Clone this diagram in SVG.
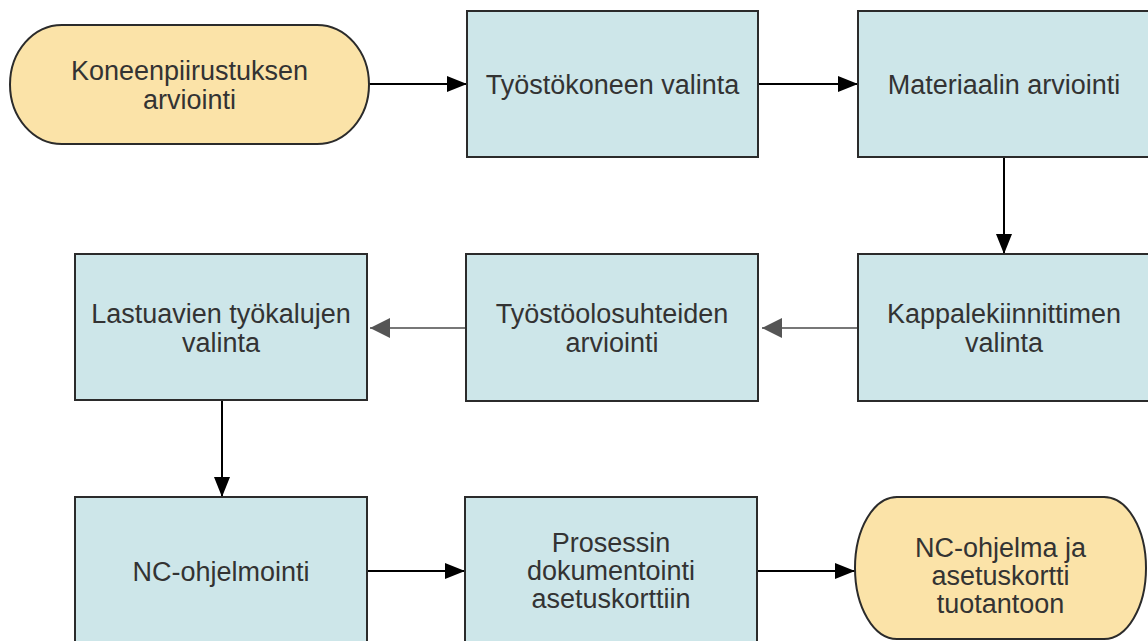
<svg xmlns="http://www.w3.org/2000/svg" width="1148" height="641" viewBox="0 0 1148 641">
<defs>
<style>
.box{fill:#cde6e9;stroke:#2b2b2b;stroke-width:2}
.term{fill:#fbe3a8;stroke:#2b2b2b;stroke-width:2}
.lbl{font-family:"Liberation Sans",Arial,sans-serif;font-size:27px;fill:#333;text-anchor:middle}
.c{fill:none;stroke:#000;stroke-width:2}
.g{fill:none;stroke:#777;stroke-width:2}
</style>
<marker id="ab" viewBox="0 0 20 16" refX="20" refY="8" markerWidth="20" markerHeight="16" markerUnits="userSpaceOnUse" orient="auto">
<path d="M0,0 L20,8 L0,16 Z" fill="#000"/>
</marker>
<marker id="ag" viewBox="0 0 20 20" refX="20" refY="10" markerWidth="20" markerHeight="20" markerUnits="userSpaceOnUse" orient="auto">
<path d="M0,0 L20,10 L0,20 Z" fill="#555"/>
</marker>
</defs>
<rect width="1148" height="641" fill="#fff"/>
<g id="connectors">
<path class="c" d="M369,84 H467" marker-end="url(#ab)"/>
<path class="c" d="M758,84 H858" marker-end="url(#ab)"/>
<path class="c" d="M1004,157 V254" marker-end="url(#ab)"/>
<path class="g" d="M858,328 H762" marker-end="url(#ag)"/>
<path class="g" d="M466,328 H370" marker-end="url(#ag)"/>
<path class="c" d="M222,400 V497" marker-end="url(#ab)"/>
<path class="c" d="M367,571 H465" marker-end="url(#ab)"/>
<path class="c" d="M757,571 H855" marker-end="url(#ab)"/>
</g>
<g id="n1">
<rect class="term" x="10" y="25" width="359" height="119" rx="52" ry="59.5"/>
<text class="lbl"><tspan x="189.5" y="80">Koneenpiirustuksen</tspan><tspan x="189.5" y="109">arviointi</tspan></text>
</g>
<g id="n2">
<rect class="box" x="467" y="11" width="291" height="146"/>
<text class="lbl" x="612.5" y="94">Työstökoneen valinta</text>
</g>
<g id="n3">
<rect class="box" x="858" y="11" width="300" height="146"/>
<text class="lbl" x="1004" y="94">Materiaalin arviointi</text>
</g>
<g id="n4">
<rect class="box" x="75" y="254" width="292" height="146"/>
<text class="lbl"><tspan x="221" y="323">Lastuavien työkalujen</tspan><tspan x="221" y="352">valinta</tspan></text>
</g>
<g id="n5">
<rect class="box" x="466" y="254" width="292" height="147"/>
<text class="lbl"><tspan x="612" y="323">Työstöolosuhteiden</tspan><tspan x="612" y="352">arviointi</tspan></text>
</g>
<g id="n6">
<rect class="box" x="858" y="254" width="300" height="147"/>
<text class="lbl"><tspan x="1004" y="323">Kappalekiinnittimen</tspan><tspan x="1004" y="352">valinta</tspan></text>
</g>
<g id="n7">
<rect class="box" x="75" y="497" width="292" height="150"/>
<text class="lbl" x="221" y="581">NC-ohjelmointi</text>
</g>
<g id="n8">
<rect class="box" x="465" y="497" width="292" height="150"/>
<text class="lbl"><tspan x="611" y="552">Prosessin</tspan><tspan x="611" y="580">dokumentointi</tspan><tspan x="611" y="608">asetuskorttiin</tspan></text>
</g>
<g id="n9">
<rect class="term" x="855" y="497" width="291" height="142" rx="42" ry="71"/>
<text class="lbl"><tspan x="1000.5" y="557">NC-ohjelma ja</tspan><tspan x="1000.5" y="585">asetuskortti</tspan><tspan x="1000.5" y="613">tuotantoon</tspan></text>
</g>
</svg>
